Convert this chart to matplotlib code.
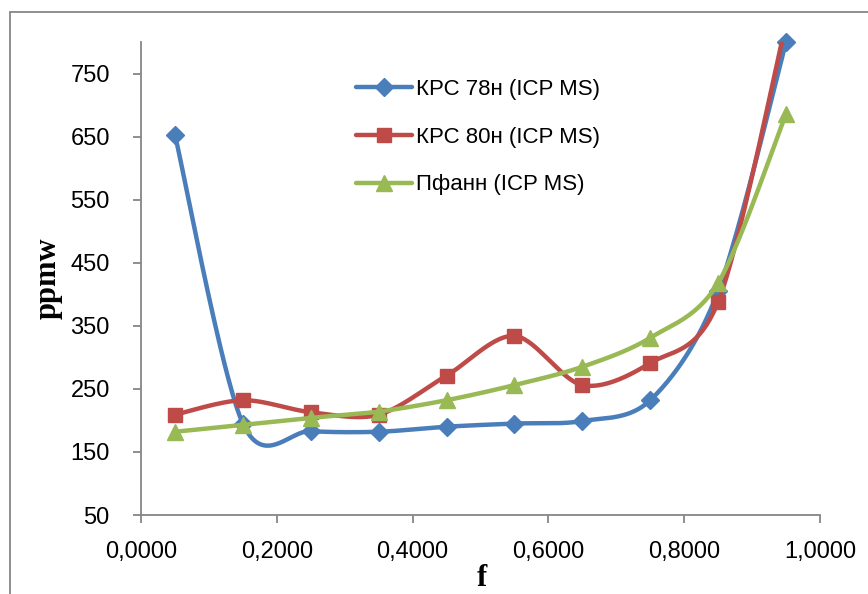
import numpy as np
import matplotlib
matplotlib.use('Agg')
import matplotlib.pyplot as plt
from matplotlib.ticker import FuncFormatter
from matplotlib.patches import Rectangle

# fraction f and concentrations (ppmw)
f_vals = [0.05, 0.15, 0.25, 0.35, 0.45, 0.55, 0.65, 0.75, 0.85, 0.95]
krs78 = [653, 195, 183, 182, 190, 195, 199, 232, 405, 800]
krs80 = [209, 232, 213, 209, 271, 334, 256, 291, 388, 830]
pfann = [182, 193, 204, 214, 232, 256, 285, 331, 418, 686]

labels = ['КРС 78н (ICP MS)', 'КРС 80н (ICP MS)', 'Пфанн (ICP MS)']
colors = ['#4A7EBB', '#BE4B48', '#98B954']
markers = ['D', 's', '^']
msizes = [9.5, 10, 11]

x_ticks = [0.0, 0.2, 0.4, 0.6, 0.8, 1.0]
y_ticks = [50, 150, 250, 350, 450, 550, 650, 750]

plt.rcParams['font.family'] = ['Liberation Sans', 'DejaVu Sans']

W, H = 868, 594
fig = plt.figure(figsize=(W / 100, H / 100), dpi=100)
ax = fig.add_axes([141 / W, 1 - 515 / H, (820 - 141) / W, (515 - 42) / H])
ax.set_xlim(0, 1)
ax.set_ylim(50, 800)


def smooth(ax, xs, ys, n=40, k=1 / 6.5):
    # Excel-style smoothed line: cubic Bezier through points in screen space
    pts = ax.transData.transform(np.column_stack([xs, ys]))
    P = np.vstack([pts[0], pts, pts[-1]])
    out = []
    t = np.linspace(0, 1, n)[:, None]
    for i in range(1, len(P) - 2):
        p0, p1, p2, p3 = P[i - 1], P[i], P[i + 1], P[i + 2]
        c1 = p1 + (p2 - p0) * k
        c2 = p2 - (p3 - p1) * k
        seg = ((1 - t) ** 3 * p1 + 3 * (1 - t) ** 2 * t * c1
               + 3 * (1 - t) * t ** 2 * c2 + t ** 3 * p2)
        out.append(seg if i == 1 else seg[1:])
    return ax.transData.inverted().transform(np.vstack(out))


handles = []
for ys, lab, c, m, ms in zip([krs78, krs80, pfann], labels, colors, markers, msizes):
    curve = smooth(ax, f_vals, ys)
    ax.plot(curve[:, 0], curve[:, 1], color=c, lw=3.2, solid_capstyle='round')
    xs = np.array(f_vals)
    yv = np.array(ys)
    keep = yv <= 800
    ax.plot(xs[keep], yv[keep], ls='none', marker=m, ms=ms, color=c,
            mec=c, clip_on=False)
    handles.append(plt.Line2D([], [], color=c, lw=3.2, marker=m, ms=ms,
                              mec=c, solid_capstyle='round'))

ax.legend(handles, labels, loc='upper left', bbox_to_anchor=(356 / W, 1 - 79 / H),
          bbox_transform=fig.transFigure, frameon=False, fontsize=16,
          handlelength=2.5, handletextpad=0.2, labelspacing=1.2,
          borderaxespad=0, borderpad=0)

ax.set_xticks(x_ticks)
ax.set_yticks(y_ticks)
ax.xaxis.set_major_formatter(FuncFormatter(lambda v, p: f'{v:.4f}'.replace('.', ',')))
for s in ['top', 'right']:
    ax.spines[s].set_visible(False)
for s in ['left', 'bottom']:
    ax.spines[s].set_color('#868686')
    ax.spines[s].set_linewidth(1.3)
ax.tick_params(axis='both', direction='out', length=5.5, width=1.3,
               color='#868686', labelsize=17, labelcolor='black')
ax.tick_params(axis='x', pad=13)
ax.tick_params(axis='y', pad=17)

fig.text(48 / W, 1 - 278 / H, 'ppmw', rotation=90, ha='center', va='center',
         fontsize=22, fontweight='bold', family='Liberation Serif')
fig.text(482 / W, 1 - 579 / H, 'f', ha='center', va='center',
         fontsize=22, fontweight='bold', family='Liberation Serif')

# chart area border
fig.patches.append(Rectangle((10 / W, -0.1), 1.2, 1.1 - 12 / H, transform=fig.transFigure,
                             fill=False, ec='#868686', lw=1.3))

fig.savefig('out.png', dpi=100)
